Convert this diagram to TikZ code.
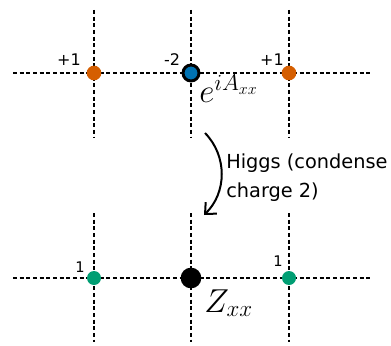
\documentclass[tikz,border=0pt]{standalone}
\usepackage{fontspec}
\newfontfamily\labelfont{DejaVu Sans}
\usepackage{xcolor}
\definecolor{colorPlus}{HTML}{D55E00}
\definecolor{colorMinus}{HTML}{0072B2}
\definecolor{colorZtwo}{HTML}{009E73}
\usetikzlibrary{arrows.meta, positioning}
\tikzset{
  bond/.style={line width=1.5pt, dash pattern=on 3pt off 2pt},
  plusdot/.style={circle, fill=colorPlus, inner sep=0pt, minimum size=11pt},
  minusdot/.style={circle, fill=colorMinus, draw=black, line width=2.2pt, inner sep=0pt, minimum size=12pt},
  zdot/.style={circle, fill=colorZtwo, inner sep=0pt, minimum size=10.5pt},
  fluxdot/.style={circle, fill=black, inner sep=0pt, minimum size=15.5pt},
  charge/.style={inner sep=0pt, font=\labelfont\fontsize{12}{14}\selectfont},
  mathlabel/.style={inner sep=0pt, anchor=base west, font=\fontsize{24}{28}\selectfont},
}

\begin{document}
\begin{tikzpicture}[x=0.75pt, y=-0.75pt, >={Straight Barb[length=6.5pt,width=12pt]}]
\useasboundingbox (0,0) rectangle (391,345);
% lattice bonds
\foreach \row/\top/\bot in {73/10/137, 278/213/342}{
  \coordinate (w\row) at (13,\row);
  \coordinate (e\row) at (372,\row);
  \draw[bond] (w\row) -- (e\row);
  \foreach \col in {94,191,289}{
    \coordinate (n\col\row) at (\col,\top);
    \coordinate (s\col\row) at (\col,\bot);
    \draw[bond] (n\col\row) -- (s\col\row);
  }
}
% before Higgs
\node[plusdot] (u1) at (94,73) {};
\node[minusdot] (u2) at (191,73) {};
\node[plusdot] (u3) at (289,73) {};
\node[charge] (cu1) at (69,60) {+1};
\node[charge] (cu2) at (172,60) {-2};
\node[charge] (cu3) at (272,60) {+1};
\node[mathlabel] (eA) at (199,103) {$e^{iA_{xx}}$};
% after Higgs
\node[zdot] (d1) at (94,278) {};
\node[fluxdot] (d2) at (191,278) {};
\node[zdot] (d3) at (289,278) {};
\node[charge, font=\labelfont\fontsize{11}{13}\selectfont] (cd1) at (80,267) {1};
\node[charge, font=\labelfont\fontsize{11}{13}\selectfont] (cd3) at (278,261) {1};
\node[mathlabel] (Zxx) at (204,312) {$Z_{xx}$};
% Higgs step
\coordinate (h0) at (205,133);
\coordinate (h1) at (204,215);
\draw[->, line width=1.5pt] (h0) to[bend left=45] (h1);
\node[inner sep=0pt, anchor=north west, align=left, font=\labelfont\fontsize{14.5}{21.75}\selectfont] (higgs) at (226,154) {Higgs (condense\\charge 2)};
\end{tikzpicture}
\end{document}
